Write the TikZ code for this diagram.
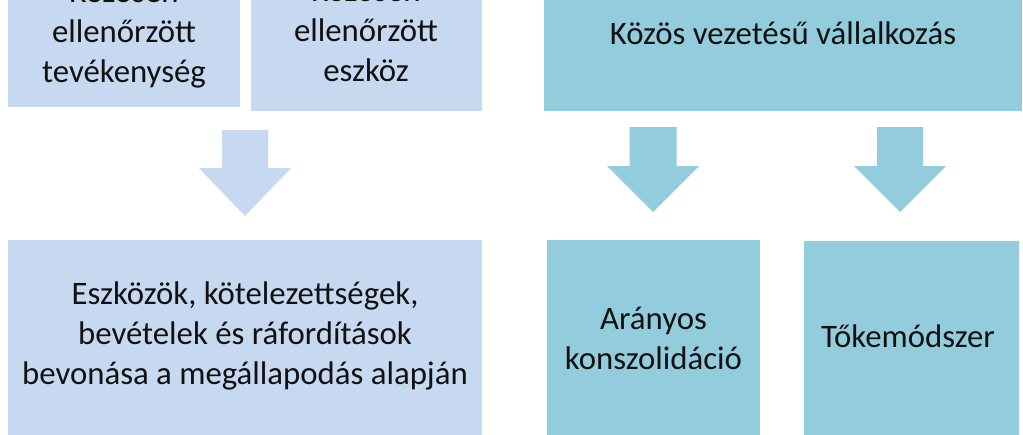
\documentclass[tikz,border=0pt]{standalone}
\usepackage{fontspec}
\setmainfont{Carlito}
\definecolor{lblue}{HTML}{C6D9F1}
\definecolor{aqua}{HTML}{93CDDD}
\definecolor{txt}{HTML}{111111}
\begin{document}
\begin{tikzpicture}[x=1pt,y=-1pt,
  boxL/.style={fill=lblue, draw=none, inner sep=0pt, outer sep=0pt, anchor=north west},
  boxR/.style={fill=aqua, draw=none, inner sep=0pt, outer sep=0pt, anchor=north west},
  lbl/.style={inner sep=0pt, align=center, text=txt, font=\fontsize{32.8}{40}\selectfont},
  arrL/.style={fill=lblue},
  arrR/.style={fill=aqua}]
\useasboundingbox (0,0) rectangle (1023,434);
\clip (0,0) rectangle (1023,434);
\fill[white] (0,0) rectangle (1023,434);
% top boxes
\node[boxL, minimum width=232pt, minimum height=167pt] (b1) at (8,-60) {};
\node[boxL, minimum width=231pt, minimum height=171pt] (b2) at (251,-60) {};
\node[boxR, minimum width=478pt, minimum height=171pt] (b3) at (544,-60) {};
\node[lbl] (t1) at (124,34) {Közösen\\ellenőrzött\\tevékenység};
\node[lbl] (t2) at (366,31) {Közösen\\ellenőrzött\\eszköz};
\node[lbl] (t3) at (783,33) {Közös vezetésű vállalkozás};
% bottom boxes
\node[boxL, minimum width=474pt, minimum height=220pt] (b4) at (8,240) {};
\node[boxR, minimum width=213pt, minimum height=220pt] (b5) at (547,240) {};
\node[boxR, minimum width=215pt, minimum height=220pt] (b6) at (804,241) {};
\node[lbl] (t4) at (245,336) {Eszközök, kötelezettségek,\\bevételek és ráfordítások\\bevonása a megállapodás alapján};
\node[lbl] (t5) at (653.5,338) {Arányos\\konszolidáció};
\node[lbl] (t6) at (908,336) {Tőkemódszer};
% block arrows
\coordinate (a1) at (245,130);
\coordinate (a2) at (653,127);
\coordinate (a3) at (900,127);
\fill[arrL] (a1) ++(-23,0) -- ++(46,0) -- ++(0,38) -- ++(23,0) -- ++(-46,48) -- ++(-46,-48) -- ++(23,0) -- cycle;
\fill[arrR] (a2) ++(-23.5,0) -- ++(47,0) -- ++(0,39) -- ++(22.5,0) -- ++(-46,46) -- ++(-46,-46) -- ++(22.5,0) -- cycle;
\fill[arrR] (a3) ++(-23,0) -- ++(46,0) -- ++(0,39) -- ++(23,0) -- ++(-46,46) -- ++(-46,-46) -- ++(23,0) -- cycle;
\end{tikzpicture}
\end{document}
